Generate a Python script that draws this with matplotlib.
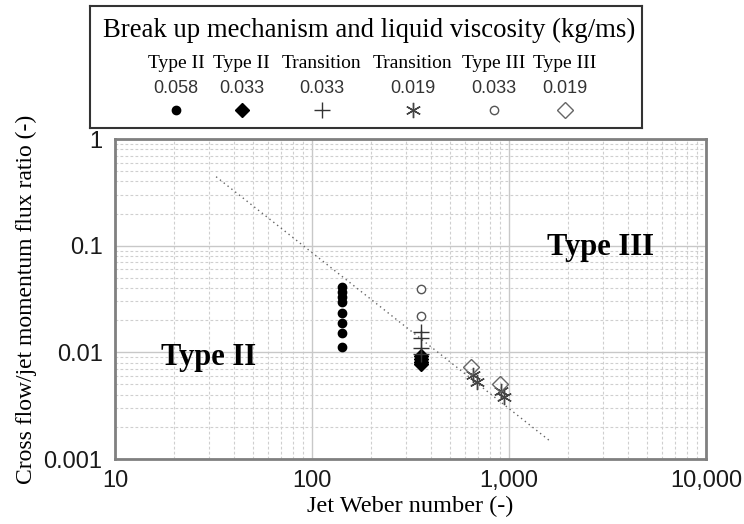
import numpy as np
import matplotlib
matplotlib.use("Agg")
import matplotlib.pyplot as plt
from matplotlib.ticker import FixedLocator, FixedFormatter, LogLocator, NullFormatter

SERIF = ['Liberation Serif', 'DejaVu Serif']
SANS = ['Liberation Sans', 'DejaVu Sans']

# legend entries: breakup mechanism and liquid viscosity (kg/ms)
mechanisms = ['Type II', 'Type II', 'Transition', 'Transition', 'Type III', 'Type III']
viscosities = ['0.058', '0.033', '0.033', '0.019', '0.033', '0.019']

# data (jet Weber number, momentum flux ratio)
we_II_058 = [142, 142, 142, 142, 142, 142, 142, 142]
q_II_058 = [0.0407, 0.0371, 0.0333, 0.0299, 0.0232, 0.0190, 0.0151, 0.0111]
we_II_033 = [356, 356, 356, 356]
q_II_033 = [0.0092, 0.0087, 0.0082, 0.0078]
we_tr_033 = [356, 356, 356, 356]
q_tr_033 = [0.0156, 0.0136, 0.0109, 0.0096]
we_tr_019 = [655, 690, 915, 945]
q_tr_019 = [0.0061, 0.0053, 0.0043, 0.0038]
we_III_033 = [356, 356]
q_III_033 = [0.0393, 0.0221]
we_III_019 = [645, 905]
q_III_019 = [0.0073, 0.0051]

# boundary line between Type II and Type III
we_line = [32.6, 1596]
q_line = [0.443, 0.0015]

x_ticks = [10, 100, 1000, 10000]
x_ticklabels = ['10', '100', '1,000', '10,000']
y_ticks = [0.001, 0.01, 0.1, 1]
y_ticklabels = ['0.001', '0.01', '0.1', '1']

fig = plt.figure(figsize=(7.44, 5.24), dpi=100)
ax = fig.add_axes([115/744, 1-459/524, 591/744, 320/524])

ax.set_xscale('log')
ax.set_yscale('log')
ax.set_xlim(10, 10000)
ax.set_ylim(0.001, 1)

ax.xaxis.set_major_locator(FixedLocator(x_ticks))
ax.xaxis.set_major_formatter(FixedFormatter(x_ticklabels))
ax.yaxis.set_major_locator(FixedLocator(y_ticks))
ax.yaxis.set_major_formatter(FixedFormatter(y_ticklabels))
ax.xaxis.set_minor_locator(LogLocator(base=10, subs=np.arange(2, 10)))
ax.yaxis.set_minor_locator(LogLocator(base=10, subs=np.arange(2, 10)))
ax.xaxis.set_minor_formatter(NullFormatter())
ax.yaxis.set_minor_formatter(NullFormatter())

ax.grid(which='major', color='#c8c8c8', linewidth=1.0, linestyle='-')
ax.grid(which='minor', color='#cfcfcf', linewidth=0.8, linestyle=(0, (2.5, 2)))
ax.set_axisbelow(True)
ax.tick_params(which='both', length=0)
ax.tick_params(axis='x', pad=8, labelsize=17)
ax.tick_params(axis='y', pad=9, labelsize=17)
for lab in ax.get_xticklabels() + ax.get_yticklabels():
  lab.set_family(SANS)
  lab.set_color('#1a1a1a')
for s in ax.spines.values():
  s.set_color('#808080')
  s.set_linewidth(2)

ax.plot(we_line, q_line, linestyle=(0, (1, 2.5)), color='#666666', linewidth=1.0)

ax.plot(we_II_058, q_II_058, 'o', color='black', markersize=6, linestyle='none')
ax.plot(we_II_033, q_II_033, 'D', color='black', markersize=7, linestyle='none')
ax.plot(we_tr_033, q_tr_033, '+', color='#333333', markersize=12, markeredgewidth=1.0, linestyle='none')
ax.plot(we_tr_019, q_tr_019, marker=(6, 2, 0), color='#444444', markersize=11, markeredgewidth=1.0, linestyle='none')
ax.plot(we_III_033, q_III_033, 'o', markerfacecolor='white', markeredgecolor='#555555', markersize=6, markeredgewidth=1.0, linestyle='none')
ax.plot(we_III_019, q_III_019, 'D', markerfacecolor='none', markeredgecolor='#666666', markersize=8, markeredgewidth=1.0, linestyle='none')

ax.text(29.7, 0.0089, 'Type II', family=SERIF, fontsize=22, fontweight='bold', ha='center', va='center')
ax.text(2900, 0.097, 'Type III', family=SERIF, fontsize=22, fontweight='bold', ha='center', va='center')

ax.set_xlabel('Jet Weber number (-)', family=SERIF, fontsize=17.5, labelpad=3)
ax.set_ylabel('Cross flow/jet momentum flux ratio (-)', family=SERIF, fontsize=17, labelpad=5)

# legend box above the plot
lg = fig.add_axes([90/744, 1-128/524, 552/744, 122/524])
lg.set_xlim(0, 1)
lg.set_ylim(0, 1)
lg.set_xticks([])
lg.set_yticks([])
for s in lg.spines.values():
  s.set_color('#333333')
  s.set_linewidth(1.5)

lg.text(0.505, 0.80, 'Break up mechanism and liquid viscosity (kg/ms)', family=SERIF, fontsize=19.3,
        ha='center', va='center')
col_x = [0.156, 0.275, 0.42, 0.585, 0.732, 0.86]
styles = [
  dict(marker='o', color='black', markersize=6),
  dict(marker='D', color='black', markersize=7),
  dict(marker='+', color='#333333', markersize=12, markeredgewidth=1.0),
  dict(marker=(6, 2, 0), color='#444444', markersize=11, markeredgewidth=1.0),
  dict(marker='o', markerfacecolor='white', markeredgecolor='#555555', markersize=6, markeredgewidth=1.0),
  dict(marker='D', markerfacecolor='none', markeredgecolor='#666666', markersize=8, markeredgewidth=1.0),
]
for cx, mech, visc, st in zip(col_x, mechanisms, viscosities, styles):
  lg.text(cx, 0.53, mech, family=SERIF, fontsize=14, ha='center', va='center')
  lg.text(cx, 0.32, visc, family=SANS, fontsize=13, ha='center', va='center', color='#333333')
  lg.plot([cx], [0.15], linestyle='none', **st)

fig.savefig('out.png', dpi=100)
